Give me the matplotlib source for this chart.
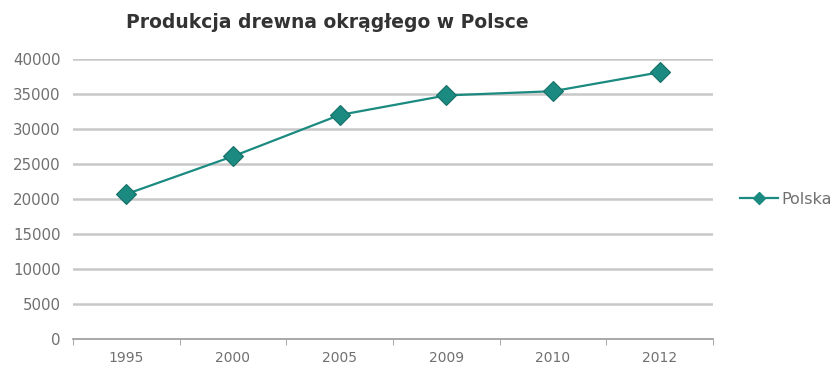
import matplotlib
matplotlib.use("Agg")
import matplotlib.pyplot as plt
from matplotlib.lines import Line2D

plt.rcParams['font.family'] = ['DejaVu Sans']

years = ["1995", "2000", "2005", "2009", "2010", "2012"]
polska = [20700, 26100, 32000, 34800, 35400, 38100]
yticks = [0, 5000, 10000, 15000, 20000, 25000, 30000, 35000, 40000]

teal = "#1b8a80"
grid_col = "#c8c8c8"
text_col = "#707070"

fig = plt.figure(figsize=(8.36, 3.68), dpi=100)
ax = fig.add_axes([73 / 836, 1 - 339 / 368, 640 / 836, 280 / 368])

x = list(range(len(years)))
ax.plot(x, polska, color=teal, lw=1.6, marker="D", markersize=10.5,
        markerfacecolor=teal, markeredgecolor="#166f67", markeredgewidth=0.8,
        zorder=3)

ax.set_xlim(-0.5, len(years) - 0.5)
ax.set_ylim(0, 40000)
ax.set_yticks(yticks)
ax.set_yticklabels([str(v) for v in yticks])
for v in yticks[1:]:
    ax.axhline(v, color=grid_col, lw=1.8, zorder=1)

ax.set_xticks(x)
ax.set_xticklabels(years)
ax.set_xticks([i + 0.5 for i in range(-1, len(years))], minor=True)
ax.tick_params(axis="x", which="major", length=0, pad=9, labelsize=10,
               labelcolor=text_col)
ax.tick_params(axis="x", which="minor", length=4, color="#999999",
               direction="out")
ax.tick_params(axis="y", length=0, pad=9, labelsize=10.8, labelcolor=text_col)

for s in ["top", "right"]:
    ax.spines[s].set_visible(False)
ax.spines["left"].set_visible(False)
ax.spines["bottom"].set_color("#999999")
ax.spines["bottom"].set_linewidth(1.2)

fig.text(327 / 836, 1 - 22 / 368, "Produkcja drewna okrągłego w Polsce",
         ha="center", va="center", fontsize=13.5, fontweight="bold",
         color="#333333")

handle = Line2D([], [], color=teal, lw=1.6, marker="D", markersize=6,
                markerfacecolor=teal, markeredgecolor=teal)
fig.legend([handle], ["Polska"], loc="center left",
           bbox_to_anchor=(740 / 836, 1 - 199 / 368), frameon=False,
           fontsize=11.5, labelcolor=text_col, handlelength=2.4,
           handletextpad=0.2, borderpad=0, borderaxespad=0)

fig.savefig("out.png", dpi=100, facecolor="white")
